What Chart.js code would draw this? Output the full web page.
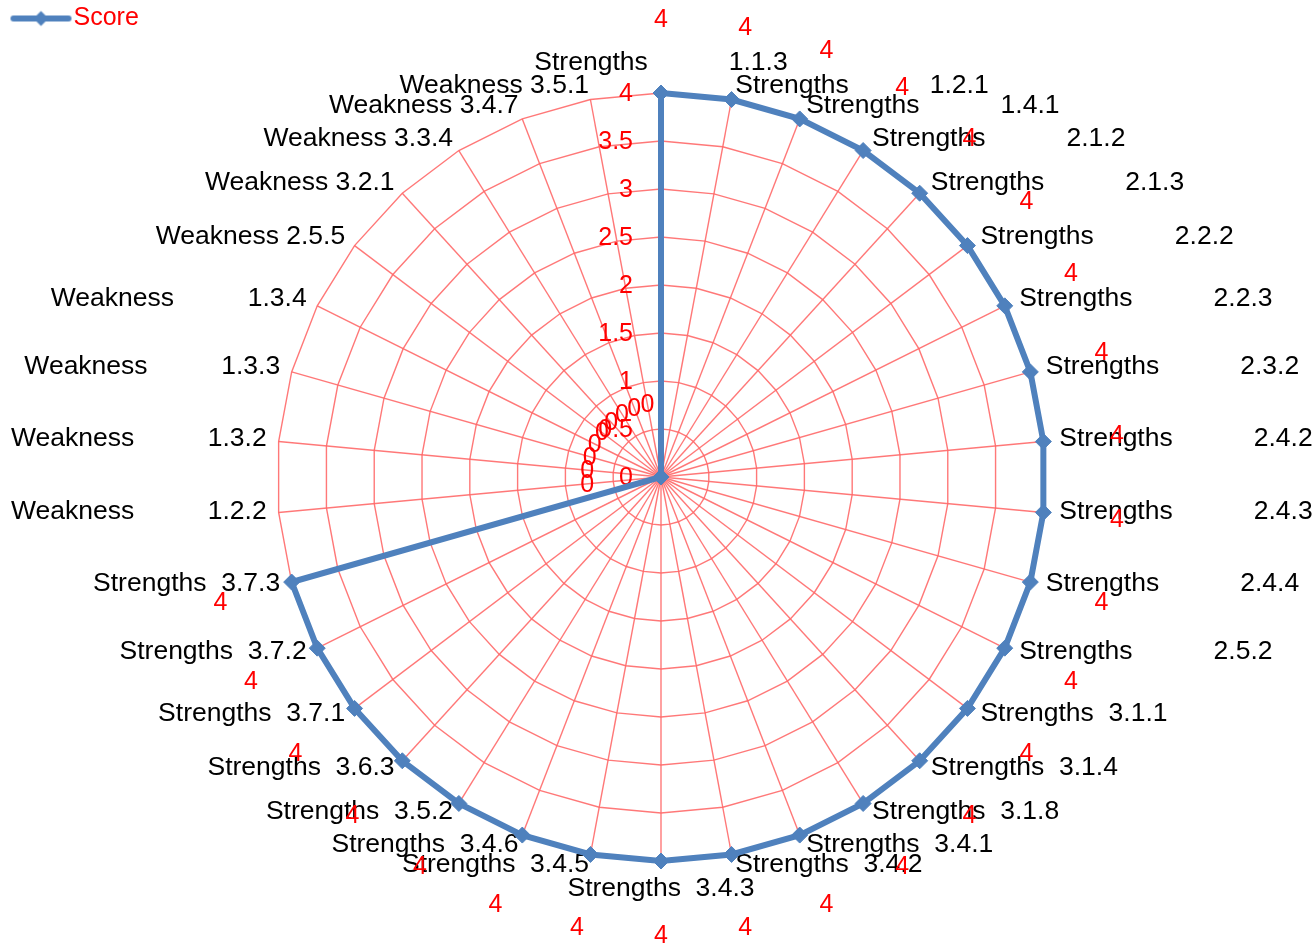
<!DOCTYPE html>
<html>
<head>
<meta charset="utf-8">
<script src="https://cdn.jsdelivr.net/npm/chart.js@4.4.1/dist/chart.umd.min.js"></script>
<style>
  html, body { margin: 0; padding: 0; background: #ffffff; }
  #wrap { width: 1316px; height: 943px; position: relative; }
</style>
</head>
<body>
<div id="wrap"><canvas id="chart" width="1316" height="943"></canvas></div>
<script>
// Category names (the gap between group word and code is part of each name)
const sp = n => ' '.repeat(n);
const categories = [
  'Strengths' + sp(11) + '1.1.3',
  'Strengths' + sp(11) + '1.2.1',
  'Strengths' + sp(11) + '1.4.1',
  'Strengths' + sp(11) + '2.1.2',
  'Strengths' + sp(11) + '2.1.3',
  'Strengths' + sp(11) + '2.2.2',
  'Strengths' + sp(11) + '2.2.3',
  'Strengths' + sp(11) + '2.3.2',
  'Strengths' + sp(11) + '2.4.2',
  'Strengths' + sp(11) + '2.4.3',
  'Strengths' + sp(11) + '2.4.4',
  'Strengths' + sp(11) + '2.5.2',
  'Strengths' + sp(2) + '3.1.1',
  'Strengths' + sp(2) + '3.1.4',
  'Strengths' + sp(2) + '3.1.8',
  'Strengths' + sp(2) + '3.4.1',
  'Strengths' + sp(2) + '3.4.2',
  'Strengths' + sp(2) + '3.4.3',
  'Strengths' + sp(2) + '3.4.5',
  'Strengths' + sp(2) + '3.4.6',
  'Strengths' + sp(2) + '3.5.2',
  'Strengths' + sp(2) + '3.6.3',
  'Strengths' + sp(2) + '3.7.1',
  'Strengths' + sp(2) + '3.7.2',
  'Strengths' + sp(2) + '3.7.3',
  'Weakness' + sp(10) + '1.2.2',
  'Weakness' + sp(10) + '1.3.2',
  'Weakness' + sp(10) + '1.3.3',
  'Weakness' + sp(10) + '1.3.4',
  'Weakness 2.5.5',
  'Weakness 3.2.1',
  'Weakness 3.3.4',
  'Weakness 3.4.7',
  'Weakness 3.5.1'
];

// Score per category
const scores = [
  4, 4, 4, 4, 4, 4, 4, 4, 4, 4, 4, 4,
  4, 4, 4, 4, 4, 4, 4, 4, 4, 4, 4, 4, 4,
  0, 0, 0, 0, 0, 0, 0, 0, 0
];

// Radial axis range
const axisMin = 0;
const axisMax = 4;
const axisStep = 0.5;

const seriesName = 'Score';

const FONT = '"Liberation Sans", Arial, Helvetica, sans-serif';
const BLUE = '#4F81BD';
const RED = '#FF0000';
const GRID = 'rgba(255, 105, 105, 0.9)';

// Legend swatch: a short line with a diamond marker
function makeLegendIcon() {
  const c = document.createElement('canvas');
  c.width = 100; c.height = 20;
  const g = c.getContext('2d');
  g.strokeStyle = BLUE;
  g.lineWidth = 6;
  g.lineCap = 'round';
  g.beginPath();
  g.moveTo(30, 10); g.lineTo(85, 10);
  g.stroke();
  g.fillStyle = BLUE;
  g.beginPath();
  g.moveTo(57.5 - 7.5, 10); g.lineTo(57.5, 2.5); g.lineTo(57.5 + 7.5, 10); g.lineTo(57.5, 17.5);
  g.closePath();
  g.fill();
  return c;
}

const nb = s => s.replace(/ /g, '\u00A0');

// Axis value labels and category labels around the web
const axisTextPlugin = {
  id: 'axisText',
  beforeDatasetsDraw(chart) {
    const scale = chart.scales.r;
    const ctx = chart.ctx;
    ctx.save();
    // value labels along the vertical axis
    ctx.font = '25px ' + FONT;
    ctx.fillStyle = RED;
    ctx.textAlign = 'right';
    ctx.textBaseline = 'middle';
    scale.ticks.forEach(t => {
      const d = scale.getDistanceFromCenterForValue(t.value);
      ctx.fillText(String(t.value), scale.xCenter - 28, scale.yCenter - d + 1);
    });
    // category labels
    ctx.font = '26.5px ' + FONT;
    ctx.fillStyle = '#000000';
    chart.data.labels.forEach((lab, i) => {
      const p = scale.getPointPosition(i, scale.drawingArea);
      const a = p.angle + Math.PI / 2;
      const s = Math.sin(a), c = Math.cos(a);
      let x, y;
      if (Math.abs(s) < 1e-3) {
        ctx.textAlign = 'center';
        x = p.x;
        y = p.y - 1 - 29 * c;
      } else if (s > 0) {
        ctx.textAlign = 'left';
        x = p.x + 1 + 15 * s;
        y = p.y - 2 - 12 * c;
      } else {
        ctx.textAlign = 'right';
        x = p.x + 1 - 13 * Math.abs(s);
        y = p.y - 2 - 12 * c;
      }
      ctx.fillText(nb(lab), x, y);
    });
    ctx.restore();
  },
  afterDatasetsDraw(chart) {
    const scale = chart.scales.r;
    const ctx = chart.ctx;
    const meta = chart.getDatasetMeta(0);
    const values = chart.data.datasets[0].data;
    ctx.save();
    ctx.font = '25px ' + FONT;
    ctx.fillStyle = RED;
    ctx.textAlign = 'center';
    ctx.textBaseline = 'middle';
    meta.data.forEach((el, i) => {
      const dir = scale.getPointPosition(i, 1);
      const a = dir.angle + Math.PI / 2;
      const x = el.x + 74 * Math.sin(a);
      const y = el.y - 74 * Math.cos(a) + 1;
      ctx.fillText(String(values[i]), x, y);
    });
    ctx.restore();
  }
};

new Chart(document.getElementById('chart'), {
  type: 'radar',
  data: {
    labels: categories,
    datasets: [{
      label: seriesName,
      data: scores,
      borderColor: BLUE,
      backgroundColor: BLUE,
      borderWidth: 6,
      fill: false,
      tension: 0,
      pointStyle: 'rectRot',
      pointRadius: 8,
      pointBorderWidth: 1,
      pointBackgroundColor: BLUE,
      pointBorderColor: BLUE
    }]
  },
  options: {
    responsive: false,
    devicePixelRatio: 1,
    animation: false,
    layout: { padding: 0 },
    plugins: {
      tooltip: { enabled: false },
      legend: {
        display: true,
        position: 'top',
        align: 'start',
        labels: {
          usePointStyle: true,
          pointStyle: makeLegendIcon(),
          pointStyleWidth: 55,
          padding: 6,
          color: RED,
          font: { family: FONT, size: 25 }
        }
      }
    },
    scales: {
      r: {
        min: axisMin,
        max: axisMax,
        startAngle: 0,
        ticks: { stepSize: axisStep, display: false },
        grid: { color: GRID, lineWidth: 1.4, circular: false },
        angleLines: { color: GRID, lineWidth: 1.4 },
        pointLabels: { display: false },
        afterFit(scale) {
          scale.xCenter = 661;
          scale.yCenter = 477;
          scale.drawingArea = 384;
        }
      }
    }
  },
  plugins: [axisTextPlugin]
});
</script>
</body>
</html>
